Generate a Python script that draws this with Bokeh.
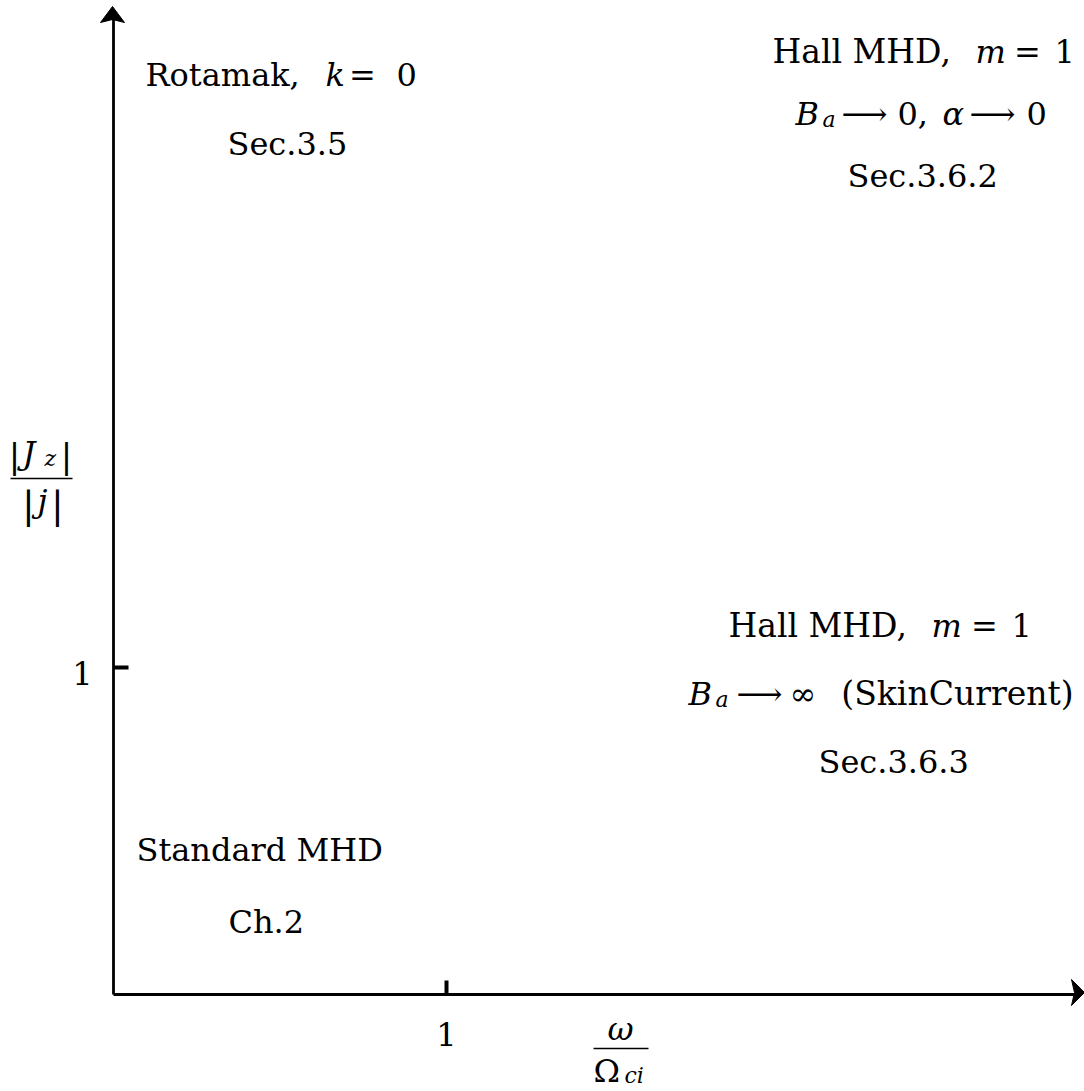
from bokeh.plotting import figure
from bokeh.models import Range1d, ColumnDataSource
from bokeh.core.properties import value
from bokeh.embed import file_html
from bokeh.resources import INLINE

# ---------------- data ----------------
x_ticks = [1]
x_tick_labels = ["1"]
y_ticks = [1]
y_tick_labels = ["1"]

region_titles = ["Rotamak,", "Hall MHD,", "Hall MHD,", "Standard MHD"]
region_refs = ["Sec.3.5", "Sec.3.6.2", "Sec.3.6.3", "Ch.2"]

# ---------------- layout helpers ----------------
W, H = 1084, 1091
OX, OY = 113, 994          # page-pixel position of the origin
SX, SY = 333.0, 327.0      # pixels per unit
DY = -12                   # baseline correction for rendered text


def X(ix):
    return (ix - OX) / SX


def Y(iy):
    return (OY - iy) / SY


p = figure(width=W, height=H, output_backend="svg", toolbar_location=None,
           x_range=Range1d(X(0), X(W)), y_range=Range1d(Y(H), Y(0)),
           x_axis_type=None, y_axis_type=None, min_border=0)
p.outline_line_color = None
p.xgrid.visible = False
p.ygrid.visible = False
p.background_fill_color = "white"
p.border_fill_color = "white"

INK = "black"

# axes
p.segment(x0=[0, 0], y0=[0, 0], x1=[X(1076), 0], y1=[0, Y(16)],
          line_color=INK, line_width=2.8)
# arrow heads
p.patch(x=[X(1084), X(1071), X(1074), X(1071)], y=[Y(992), Y(979), Y(992), Y(1005)],
        color=INK, line_width=1)
p.patch(x=[X(112), X(100), X(112), X(124)], y=[Y(6), Y(22), Y(19), Y(22)],
        color=INK, line_width=1)

# ticks
p.segment(x0=x_ticks, y0=[0] * len(x_ticks), x1=x_ticks, y1=[14 / SY] * len(x_ticks),
          line_color=INK, line_width=4)
p.segment(x0=[0] * len(y_ticks), y0=y_ticks, x1=[15 / SX] * len(y_ticks), y1=y_ticks,
          line_color=INK, line_width=4)

# x label fraction bar / y label fraction bar
p.segment(x0=[X(593), X(10)], y0=[Y(1048), Y(478)], x1=[X(648), X(72)], y1=[Y(1048), Y(478)],
          line_color=INK, line_width=1.6)

FONT = "DejaVu Serif"
BIG, SMALL = "32px", "22px"
ARR = "\u27f6"

# (text, page-x, page-baseline-y, style, size, align)
segs = [
    # Rotamak region
    (region_titles[0], 145, 86, "normal", BIG, "left"),
    ("k", 325, 86, "italic", BIG, "left"),
    ("=", 362, 86, "normal", BIG, "center"),
    ("0", 396, 86, "normal", BIG, "left"),
    (region_refs[0], 227, 155, "normal", BIG, "left"),
    # Hall MHD, B_a -> 0
    (region_titles[1], 772, 63, "normal", "33px", "left"),
    ("m", 975, 63, "italic", BIG, "left"),
    ("=", 1027, 63, "normal", BIG, "center"),
    ("1", 1054, 63, "normal", BIG, "left"),
    ("B", 795, 125, "italic", BIG, "left"),
    ("a", 822, 131, "italic", SMALL, "left"),
    (ARR, 864, 125, "normal", BIG, "center"),
    ("0,", 897, 125, "normal", BIG, "left"),
    ("\u03b1", 942, 125, "italic", BIG, "left"),
    (ARR, 992, 125, "normal", BIG, "center"),
    ("0", 1026, 125, "normal", BIG, "left"),
    (region_refs[1], 847, 187, "normal", BIG, "left"),
    # Hall MHD, skin current
    (region_titles[2], 728, 637, "normal", "33px", "left"),
    ("m", 931, 637, "italic", BIG, "left"),
    ("=", 984, 637, "normal", BIG, "center"),
    ("1", 1011, 637, "normal", BIG, "left"),
    ("B", 688, 705, "italic", BIG, "left"),
    ("a", 715, 711, "italic", SMALL, "left"),
    (ARR, 759, 705, "normal", BIG, "center"),
    ("\u221e", 789, 705, "normal", BIG, "left"),
    ("(SkinCurrent)", 957, 705, "normal", "33px", "center"),
    (region_refs[2], 818, 773, "normal", BIG, "left"),
    # Standard MHD
    (region_titles[3], 136, 861, "normal", BIG, "left"),
    (region_refs[3], 228, 933, "normal", BIG, "left"),
    # x axis label
    ("\u03c9", 620, 1040, "italic", BIG, "center"),
    ("\u03a9", 593, 1082, "normal", BIG, "left"),
    ("ci", 624, 1087, "italic", SMALL, "left"),
    # y axis label
    ("|", 14, 467, "normal", "34px", "center"),
    ("J", 22, 464, "italic", BIG, "left"),
    ("z", 44, 470, "italic", SMALL, "left"),
    ("|", 66, 467, "normal", "34px", "center"),
    ("|", 28, 516, "normal", "38px", "center"),
    ("j", 37, 512, "italic", BIG, "left"),
    ("|", 57, 516, "normal", "38px", "center"),
]

# tick labels
for v, lab in zip(x_ticks, x_tick_labels):
    segs.append((lab, OX + v * SX, 1046, "normal", BIG, "center"))
for v, lab in zip(y_ticks, y_tick_labels):
    segs.append((lab, 92, OY - v * SY + 18, "normal", BIG, "right"))

groups = {}
for t, ix, iy, st, sz, al in segs:
    groups.setdefault((st, sz, al), {"x": [], "y": [], "t": []})
    g = groups[(st, sz, al)]
    g["x"].append(X(ix))
    g["y"].append(Y(iy + DY))
    g["t"].append(t)

for (st, sz, al), g in groups.items():
    src = ColumnDataSource(dict(x=g["x"], y=g["y"], t=g["t"]))
    p.text(x="x", y="y", text="t", source=src, text_font=value(FONT),
           text_font_style=st, text_font_size=sz, text_align=al,
           text_baseline="alphabetic", text_color=INK)

open("out.html", "w").write(file_html(p, INLINE))
